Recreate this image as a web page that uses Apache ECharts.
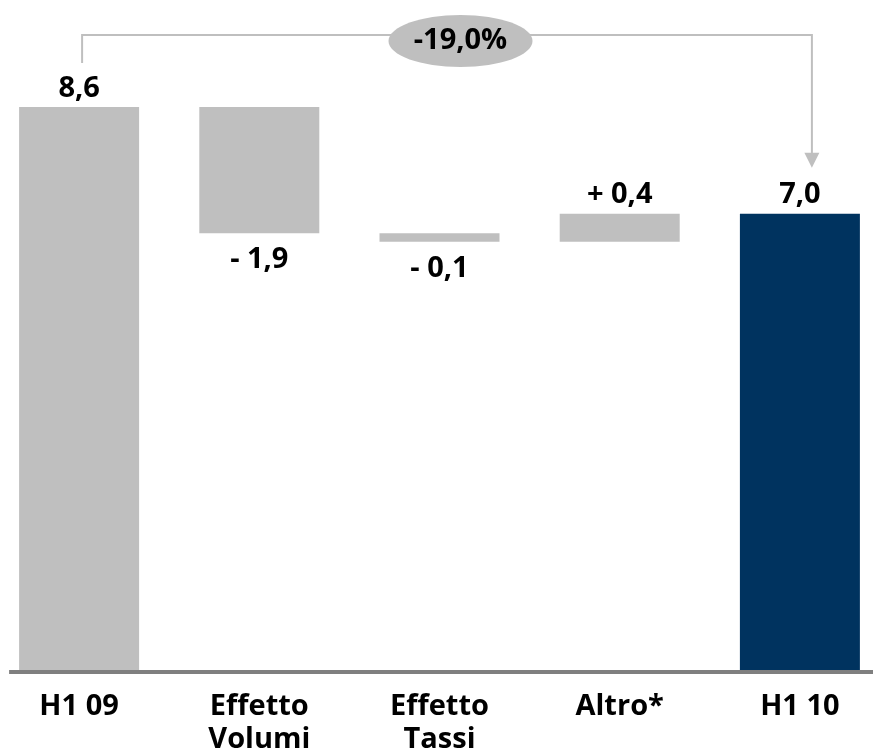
<!DOCTYPE html>
<html>
<head>
<meta charset="utf-8">
<script src="https://cdn.jsdelivr.net/npm/echarts@6/dist/echarts.min.js"></script>
<style>
html,body{margin:0;padding:0;background:#fff;}
#chart{width:873px;height:756px;}
</style>
</head>
<body>
<div id="chart"></div>
<script>
const categories = ['H1 09', 'Effetto\nVolumi', 'Effetto\nTassi', 'Altro*', 'H1 10'];
const startValue = 8.6;
const deltas = [-1.93, -0.13, 0.43];

const GRAY = '#bfbfbf';
const NAVY = '#00335f';
const FONT = '"Open Sans", "Liberation Sans", sans-serif';

function fmt(v) { return v.toFixed(1).replace('.', ','); }

// build waterfall
const endValue = deltas.reduce((a, b) => a + b, startValue);
const bases = [0];
const heights = [startValue];
const labels = [fmt(startValue)];
const positions = ['top'];
let run = startValue;
deltas.forEach(d => {
  const next = run + d;
  bases.push(Math.min(run, next));
  heights.push(Math.abs(d));
  labels.push((d < 0 ? '- ' : '+ ') + fmt(Math.abs(d)));
  positions.push(d < 0 ? 'bottom' : 'top');
  run = next;
});
bases.push(0);
heights.push(endValue);
labels.push(fmt(endValue));
positions.push('top');
const changePct = (endValue - startValue) / startValue * 100;
const changeText = (changePct < 0 ? '-' : '+') + Math.abs(changePct).toFixed(1).replace('.', ',') + '%';

const chart = echarts.init(document.getElementById('chart'));
chart.setOption({
  animation: false,
  grid: { left: -11, width: 901, top: 15.3, bottom: 86, outerBoundsMode: 'none', containLabel: false },
  xAxis: {
    type: 'category',
    data: categories,
    axisLine: { show: false },
    axisTick: { show: false },
    axisLabel: {
      color: '#000', fontFamily: FONT, fontWeight: 'bold', fontSize: 29,
      lineHeight: 33, margin: 20, interval: 0
    }
  },
  yAxis: { type: 'value', min: 0, max: 10, show: false, splitLine: { show: false } },
  series: [
    {
      type: 'bar', stack: 'w', barWidth: 120, silent: true,
      itemStyle: { color: 'transparent' },
      data: bases
    },
    {
      type: 'bar', stack: 'w', barWidth: 120,
      data: heights.map((h, i) => ({
        value: h,
        itemStyle: { color: i === heights.length - 1 ? NAVY : GRAY },
        label: {
          show: true, position: positions[i], formatter: labels[i],
          distance: positions[i] === 'bottom' ? 12 : 4,
          color: '#000', fontFamily: FONT, fontWeight: 'bold', fontSize: 29
        }
      }))
    }
  ]
});

// bracket annotation and baseline computed from bar positions
const pStart = chart.convertToPixel({ gridIndex: 0 }, [0, startValue]);
const pEnd = chart.convertToPixel({ gridIndex: 0 }, [categories.length - 1, endValue]);
const pBase = chart.convertToPixel({ gridIndex: 0 }, [0, 0]);
const xl = pStart[0] + 3;
const xr = pEnd[0] + 12;
const yTop = pStart[1] - 72;
const yLeftBottom = pStart[1] - 44;
const yTip = pEnd[1] - 46;
const cx = (pStart[0] + pEnd[0]) / 2 + 21;
const lineStyle = { stroke: GRAY, lineWidth: 2, fill: null };
chart.setOption({
  graphic: [
    { type: 'line', shape: { x1: pStart[0] - 70, y1: pBase[1] + 2, x2: 873, y2: pBase[1] + 2 }, style: { stroke: '#7f7f7f', lineWidth: 4 }, z: 9 },
    { type: 'polyline', shape: { points: [[xl, yLeftBottom], [xl, yTop], [xr, yTop], [xr, yTip - 14]] }, style: lineStyle, z: 10 },
    { type: 'polygon', shape: { points: [[xr - 7.5, yTip - 15], [xr + 7.5, yTip - 15], [xr, yTip]] }, style: { fill: GRAY }, z: 10 },
    { type: 'ellipse', shape: { cx: cx, cy: yTop + 6, rx: 72, ry: 26 }, style: { fill: GRAY }, z: 11 },
    { type: 'text', x: cx, y: yTop + 6, style: { text: changeText, fill: '#000', font: 'bold 29px ' + FONT, align: 'center', verticalAlign: 'middle' }, z: 12 }
  ]
});
</script>
</body>
</html>
